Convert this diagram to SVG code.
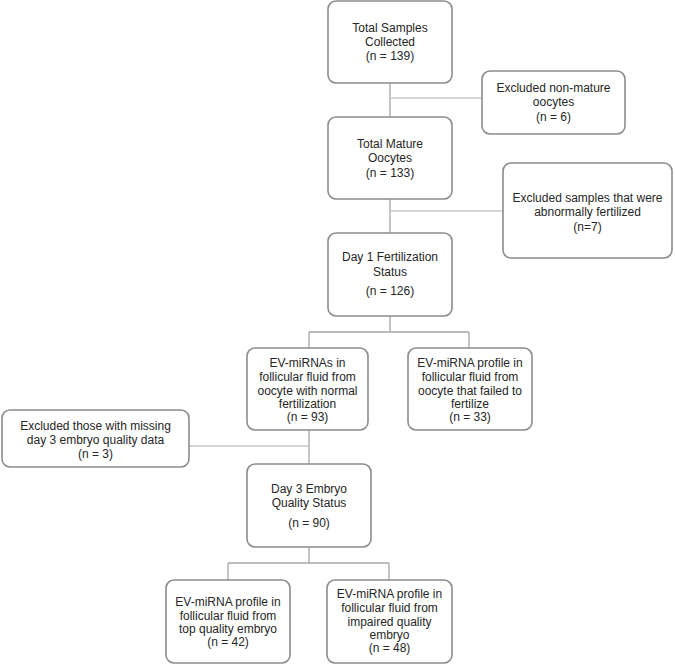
<svg xmlns="http://www.w3.org/2000/svg" width="675" height="664" viewBox="0 0 675 664">
<style>
.box{fill:#fff;stroke:#8c8c8c;stroke-width:1.6}
.t{font-family:"Liberation Sans","Noto Sans",Arial,sans-serif;font-size:12px;fill:#262626;text-anchor:middle}
.c{fill:none;stroke:#a6a6a6;stroke-width:1.3}
.cl{fill:none;stroke:#c8c8c8;stroke-width:1.3}
</style>
<rect width="675" height="664" fill="#fff"/>
<g id="connectors">
<path class="c" d="M390 83V117M390 199V233M390 316V332M309 332H469M309 332V348M469 332V348M309 430V464M309 547V563M228 563H389M228 563V580M389 563V580"/>
<path class="cl" d="M390 98H482M390 211H503M309 446H189"/>
</g>
<g id="n1"><rect class="box" x="328" y="1" width="124" height="82" rx="8"/>
<text class="t" x="390" y="32">Total Samples</text><text class="t" x="390" y="46">Collected</text><text class="t" x="390" y="60">(n = 139)</text></g>
<g id="ex1"><rect class="box" x="482" y="71" width="143" height="63" rx="8"/>
<text class="t" x="553.5" y="92">Excluded non-mature</text><text class="t" x="553.5" y="106">oocytes</text><text class="t" x="553.5" y="121">(n = 6)</text></g>
<g id="n2"><rect class="box" x="328" y="117" width="124" height="82" rx="8"/>
<text class="t" x="390" y="148">Total Mature</text><text class="t" x="390" y="162">Oocytes</text><text class="t" x="390" y="177">(n = 133)</text></g>
<g id="ex2"><rect class="box" x="503" y="163" width="169" height="95" rx="8"/>
<text class="t" x="587.5" y="202">Excluded samples that were</text><text class="t" x="587.5" y="216">abnormally fertilized</text><text class="t" x="587.5" y="231">(n=7)</text></g>
<g id="n3"><rect class="box" x="328" y="233" width="124" height="83" rx="8"/>
<text class="t" x="390" y="261">Day 1 Fertilization</text><text class="t" x="390" y="276">Status</text><text class="t" x="390" y="295">(n = 126)</text></g>
<g id="n4"><rect class="box" x="247" y="348" width="121" height="82" rx="8"/>
<text class="t" x="307.5" y="367">EV-miRNAs in</text><text class="t" x="307.5" y="381">follicular fluid from</text><text class="t" x="307.5" y="395">oocyte with normal</text><text class="t" x="307.5" y="408">fertilization</text><text class="t" x="307.5" y="421">(n = 93)</text></g>
<g id="n5"><rect class="box" x="408" y="348" width="124" height="82" rx="8"/>
<text class="t" x="470" y="367">EV-miRNA profile in</text><text class="t" x="470" y="381">follicular fluid from</text><text class="t" x="470" y="395">oocyte that failed to</text><text class="t" x="470" y="408">fertilize</text><text class="t" x="470" y="421">(n = 33)</text></g>
<g id="ex3"><rect class="box" x="2" y="410" width="187" height="57" rx="8"/>
<text class="t" x="95.5" y="430">Excluded those with missing</text><text class="t" x="95.5" y="444">day 3 embryo quality data</text><text class="t" x="95.5" y="458">(n = 3)</text></g>
<g id="n6"><rect class="box" x="247" y="464" width="124" height="83" rx="8"/>
<text class="t" x="309" y="493">Day 3 Embryo</text><text class="t" x="309" y="507">Quality Status</text><text class="t" x="309" y="527">(n = 90)</text></g>
<g id="n7"><rect class="box" x="166" y="580" width="124" height="83" rx="8"/>
<text class="t" x="228" y="606">EV-miRNA profile in</text><text class="t" x="228" y="620">follicular fluid from</text><text class="t" x="228" y="633">top quality embryo</text><text class="t" x="228" y="646">(n = 42)</text></g>
<g id="n8"><rect class="box" x="327" y="580" width="125" height="83" rx="8"/>
<text class="t" x="389.5" y="598">EV-miRNA profile in</text><text class="t" x="389.5" y="612">follicular fluid from</text><text class="t" x="389.5" y="626">impaired quality</text><text class="t" x="389.5" y="639">embryo</text><text class="t" x="389.5" y="652">(n = 48)</text></g>
</svg>
